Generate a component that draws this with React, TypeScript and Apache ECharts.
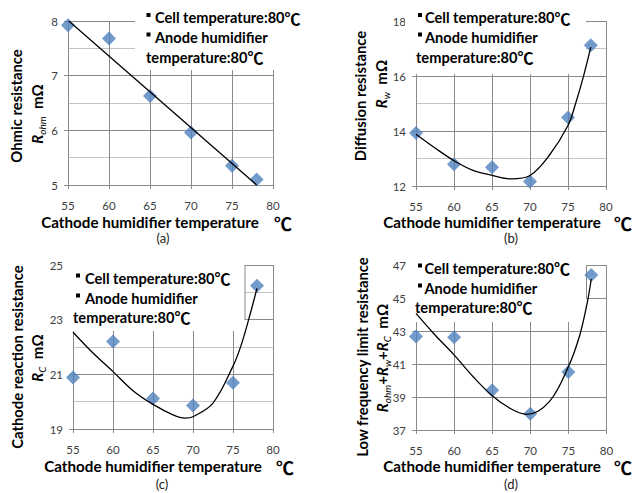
import React, { useEffect, useRef } from "react";
import * as echarts from "echarts";

// ---- data ----
const temps = [55, 60, 65, 70, 75, 78];
const ohmicValues = [7.92, 7.68, 6.63, 5.96, 5.35, 5.1];
const ohmicFitX = [55.1, 78];
const ohmicFitY = [8.0, 5.0];

const diffusionValues = [13.93, 12.79, 12.68, 12.16, 14.49, 17.12];
const diffusionFitX = [55, 57.5, 60, 62.5, 65, 67.5, 70, 72.5, 75, 76, 77, 78];
const diffusionFitY = [13.88, 13.38, 12.92, 12.57, 12.39, 12.26, 12.38, 13.1, 14.2, 15.0, 15.95, 17.05];

const cathodeValues = [20.88, 22.2, 20.12, 19.86, 20.69, 24.24];
const cathodeFitX = [55, 57.5, 60, 62.5, 65, 67.5, 69, 70, 72.5, 75, 76, 77, 78];
const cathodeFitY = [22.54, 21.78, 21.1, 20.4, 19.9, 19.52, 19.4, 19.45, 19.95, 21.3, 22.05, 23.05, 24.15];

const totalValues = [42.66, 42.62, 39.41, 37.98, 40.51, 46.39];
const totalFitX = [55, 57.5, 60, 62.5, 65, 67.5, 69.5, 72.5, 75, 76.5, 77.5, 78];
const totalFitY = [44.07, 42.76, 41.55, 40.23, 39.08, 38.27, 37.95, 38.72, 40.84, 42.76, 44.78, 46.15];

const xTicks = { min: 55, max: 80, interval: 5 };
const yRanges = [
  { min: 5, max: 8, interval: 1, minor: true },
  { min: 12, max: 18, interval: 2, minor: true },
  { min: 19, max: 25, interval: 2, minor: true },
  { min: 37, max: 47, interval: 2, minor: false },
];

const legendLine1 = "Cell temperature:80{d|℃}";
const legendLine2 = "Anode humidifier";
const legendLine3 = "temperature:80{d|℃}";
const xTitle = "Cathode humidifier temperature";
const yTitles1 = ["Ohmic resistance", "Diffusion resistance", "Cathode reaction resistance", "Low frequency limit resistance"];
const panelLabels = ["(a)", "(b)", "(c)", "(d)"];

const FONT = 'Lato, "Noto Sans CJK JP", "DejaVu Sans", sans-serif';
const CJK = '"Noto Sans CJK JP", "DejaVu Sans", sans-serif';
const GRID_COLOR = "#8a8a8a";
const MINOR_COLOR = "#c4c4c4";

const zip = (xs: number[], ys: number[]) => xs.map((x, i) => [x, ys[i]]);

const layout = [
  {
    grid: { left: 68, top: 21, width: 205, height: 164 },
    box: { x: 135, y: 3, width: 180, height: 67 },
    edge: null as null | number[],
    bulletX: 146.5, textX: 155, line3X: 146, lineY: [17.5, 37, 57],
    yt1: [16, 106], yt2: [37, 114],
    xt: [150, 222], deg: [283, 223], lab: [163, 238],
  },
  {
    grid: { left: 416, top: 21, width: 190, height: 165 },
    box: { x: 405, y: 3, width: 181, height: 71 },
    edge: null as null | number[],
    bulletX: 418, textX: 425, line3X: 416, lineY: [17.5, 37, 57],
    yt1: [360, 96], yt2: [381, 84],
    xt: [492, 222], deg: [623, 223], lab: [511, 238],
  },
  {
    grid: { left: 73, top: 265, width: 200, height: 164 },
    box: { x: 69, y: 255, width: 176, height: 76 },
    edge: [245, 265, 245, 320],
    bulletX: 76, textX: 85, line3X: 73, lineY: [278, 298, 317],
    yt1: [17, 357], yt2: [37, 358],
    xt: [153, 466], deg: [285, 467], lab: [162, 484],
  },
  {
    grid: { left: 416, top: 265, width: 190.5, height: 165 },
    box: { x: 408, y: 255, width: 178, height: 67 },
    edge: [586.5, 265, 586.5, 298],
    bulletX: 418, textX: 424.5, line3X: 415, lineY: [268, 288, 307],
    yt1: [362, 357], yt2: [382, 358],
    xt: [492, 466], deg: [623, 467], lab: [511, 484],
  },
];

const yTitle2Rich = [
  "{i|R}{s|ohm}{n|  mΩ}",
  "{i|R}{s|w}{n|  mΩ}",
  "{i|R}{s|C}{n|  mΩ}",
  "{i|R}{s|ohm}{n|+}{i|R}{s|w}{n|+}{i|R}{s|C}{n|  mΩ}",
];

const richStyles = {
  i: { fontFamily: FONT, fontSize: 15, fontStyle: "italic", fontWeight: "bold", fill: "#000", lineHeight: 20 },
  s: { fontFamily: FONT, fontSize: 10, fontStyle: "italic", fill: "#000", lineHeight: 12, verticalAlign: "bottom" },
  n: { fontFamily: FONT, fontSize: 15, fontWeight: "bold", fill: "#000", lineHeight: 20 },
};

const LEGEND_SIZE = 14.6;
const legendRich = {
  d: { fontFamily: CJK, fontSize: 16, fontWeight: "bold", fill: "#000", lineHeight: 16 },
};

function buildOption() {
  const scatterData = [ohmicValues, diffusionValues, cathodeValues, totalValues];
  const fits = [
    zip(ohmicFitX, ohmicFitY),
    zip(diffusionFitX, diffusionFitY),
    zip(cathodeFitX, cathodeFitY),
    zip(totalFitX, totalFitY),
  ];

  const grids = layout.map((l) => ({ ...l.grid, containLabel: false }));
  const xAxes = layout.map((_, i) => ({
    type: "value",
    gridIndex: i,
    min: xTicks.min,
    max: xTicks.max,
    interval: xTicks.interval,
    axisLine: { show: true, lineStyle: { color: GRID_COLOR, width: 1 } },
    axisTick: { show: true, length: 4, inside: false, lineStyle: { color: GRID_COLOR } },
    axisLabel: { margin: 15, fontSize: 11.5, color: "#404040", fontFamily: FONT },
    splitLine: { show: true, lineStyle: { color: GRID_COLOR, width: 1 } },
  }));
  const yAxes = yRanges.map((r, i) => ({
    type: "value",
    gridIndex: i,
    min: r.min,
    max: r.max,
    interval: r.interval,
    axisLine: { show: true, lineStyle: { color: GRID_COLOR, width: 1 } },
    axisTick: { show: true, length: 4, lineStyle: { color: GRID_COLOR } },
    axisLabel: { margin: 10, fontSize: 11.5, color: "#404040", fontFamily: FONT },
    splitLine: { show: true, lineStyle: { color: GRID_COLOR, width: 1 } },
    minorTick: { show: false, splitNumber: 2 },
    minorSplitLine: { show: r.minor, lineStyle: { color: MINOR_COLOR, width: 1 } },
  }));

  const series: any[] = [];
  scatterData.forEach((vals, i) => {
    series.push({
      type: "scatter",
      xAxisIndex: i,
      yAxisIndex: i,
      symbol: "diamond",
      symbolSize: 14,
      itemStyle: { color: "#4F81BD" },
      data: zip(temps, vals),
      z: 3,
    });
    series.push({
      type: "line",
      xAxisIndex: i,
      yAxisIndex: i,
      data: fits[i],
      showSymbol: false,
      symbol: "none",
      smooth: 0.35,
      lineStyle: { color: "#000", width: 1.3 },
      z: 4,
    });
  });

  const graphic: any[] = [];
  layout.forEach((l, i) => {
    graphic.push({ type: "rect", shape: l.box, style: { fill: "#fff" }, z: 1 });
    if (l.edge) {
      graphic.push({
        type: "line",
        shape: { x1: l.edge[0], y1: l.edge[1], x2: l.edge[2], y2: l.edge[3] },
        style: { stroke: GRID_COLOR, lineWidth: 1 },
        z: 1,
      });
    }
    const legendFont = { fontFamily: FONT, fontSize: LEGEND_SIZE, fontWeight: "bold", fill: "#000", lineHeight: 16, rich: legendRich };
    [0, 1].forEach((k) => {
      graphic.push({
        type: "rect",
        shape: { x: l.bulletX, y: l.lineY[k] - 4.5, width: 4, height: 4 },
        style: { fill: "#000" },
        z: 10,
      });
    });
    graphic.push({ type: "text", x: l.textX, y: l.lineY[0], z: 10, style: { ...legendFont, text: legendLine1, align: "left", verticalAlign: "middle" } });
    graphic.push({ type: "text", x: l.textX, y: l.lineY[1], z: 10, style: { ...legendFont, text: legendLine2, align: "left", verticalAlign: "middle" } });
    graphic.push({ type: "text", x: l.line3X, y: l.lineY[2], z: 10, style: { ...legendFont, text: legendLine3, align: "left", verticalAlign: "middle" } });

    graphic.push({
      type: "text", x: l.yt1[0], y: l.yt1[1], rotation: Math.PI / 2, z: 10,
      style: { text: yTitles1[i], fontFamily: FONT, fontSize: 14.8, fontWeight: "bold", fill: "#000", align: "center", verticalAlign: "middle" },
    });
    graphic.push({
      type: "text", x: l.yt2[0], y: l.yt2[1], rotation: Math.PI / 2, z: 10,
      style: { text: yTitle2Rich[i], rich: richStyles, fontFamily: FONT, fontSize: 15, fill: "#000", align: "center", verticalAlign: "middle" },
    });
    graphic.push({
      type: "text", x: l.xt[0], y: l.xt[1], z: 10,
      style: { text: xTitle, fontFamily: FONT, fontSize: 15.2, fontWeight: "bold", fill: "#000", align: "center", verticalAlign: "middle" },
    });
    graphic.push({
      type: "text", x: l.deg[0], y: l.deg[1], z: 10,
      style: { text: "℃", fontFamily: CJK, fontSize: 18, fontWeight: "bold", fill: "#000", align: "center", verticalAlign: "middle" },
    });
    graphic.push({
      type: "text", x: l.lab[0], y: l.lab[1], z: 10,
      style: { text: panelLabels[i], fontFamily: FONT, fontSize: 13, fill: "#222", align: "center", verticalAlign: "middle" },
    });
  });

  return {
    animation: false,
    backgroundColor: "#ffffff",
    grid: grids,
    xAxis: xAxes,
    yAxis: yAxes,
    series,
    graphic,
  };
}

export default function App() {
  const ref = useRef<HTMLDivElement>(null);
  useEffect(() => {
    if (!ref.current) return;
    const chart = echarts.init(ref.current, undefined, { renderer: "svg" });
    chart.setOption(buildOption() as any);
    return () => chart.dispose();
  }, []);
  return (
    <div
      ref={ref}
      style={{ position: "fixed", left: 0, top: 0, width: 633, height: 493, background: "#fff" }}
    />
  );
}
